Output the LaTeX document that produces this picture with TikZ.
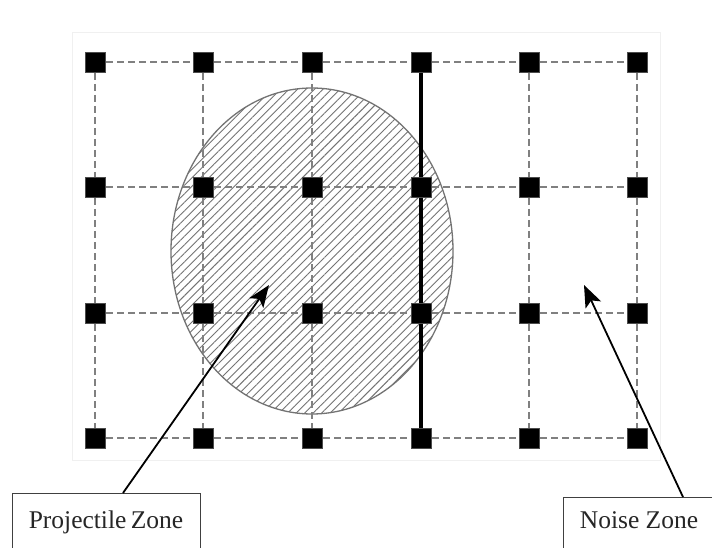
\documentclass[tikz,border=0pt]{standalone}
\usepackage{fontspec}
\setmainfont{Liberation Serif}
\usetikzlibrary{arrows.meta,patterns.meta,calc}
\begin{document}
\begin{tikzpicture}[x=1pt,y=-1pt,
  sq/.style={fill=black,draw=black!70,line width=0.6pt,minimum size=20pt,inner sep=0pt,outer sep=0pt},
  gridline/.style={draw=black!50,line width=1.5pt,dash pattern=on 7pt off 4pt},
  bold/.style={draw=black,line width=3.2pt},
  zonebox/.style={draw=black!75,line width=1.4pt,fill=white,inner sep=0pt},
  zonetext/.style={font=\fontsize{25.5}{30}\selectfont,anchor=base,inner sep=0pt,text=black!85},
  pointer/.style={draw=black,line width=1.8pt,-{Stealth[length=22pt,width=17pt,inset=5pt]}}]
\useasboundingbox (0,0) rectangle (712,548);
\fill[white] (0,0) rectangle (712,548);
% faint frame
\draw[black!6,line width=1pt] (72,33) rectangle (660,460);
% ellipse
\path[draw=black!55,line width=1.3pt,fill=white] (312,251) ellipse [x radius=141, y radius=163];
\path[pattern={Lines[angle=45,distance=6pt,line width=0.9pt]},pattern color=black!55] (312,251) ellipse [x radius=141, y radius=163];
% squares as named coordinates
\foreach \x [count=\i] in {95,203,312,421,529,637}{
  \foreach \y [count=\j] in {62,187,313,438}{
    \coordinate (c-\i-\j) at (\x,\y);
  }
}
% dashed grid
\foreach \j in {1,...,4}{
  \foreach \i [evaluate=\i as \k using int(\i+1)] in {1,...,5}{
    \draw[gridline] (c-\i-\j) -- (c-\k-\j);
  }
}
\foreach \i in {1,2,3,5,6}{
  \foreach \j [evaluate=\j as \k using int(\j+1)] in {1,2,3}{
    \draw[gridline] (c-\i-\j) -- (c-\i-\k);
  }
}
\draw[bold] (c-4-1) -- (c-4-4);
\foreach \i in {1,...,6}{
  \foreach \j in {1,...,4}{
    \node[sq] (n-\i-\j) at (c-\i-\j) {};
  }
}
% labels
\node[zonebox,anchor=north west,minimum width=188pt,minimum height=70pt] (pzbox) at (12,493) {};
\node[zonetext] (pz) at (106,528) {Projectile\hspace{-2pt} Zone};
\node[zonebox,anchor=north west,minimum width=160pt,minimum height=70pt] (nzbox) at (563,497) {};
\node[zonetext] (nz) at (639,528) {Noise Zone};
\coordinate (pztip) at (269,285);
\coordinate (nztip) at (584,285);
\draw[pointer] ($(pzbox.north west)+(111,0)$) -- (pztip);
\draw[pointer] ($(nzbox.north west)+(120,0)$) -- (nztip);
\end{tikzpicture}
\end{document}
